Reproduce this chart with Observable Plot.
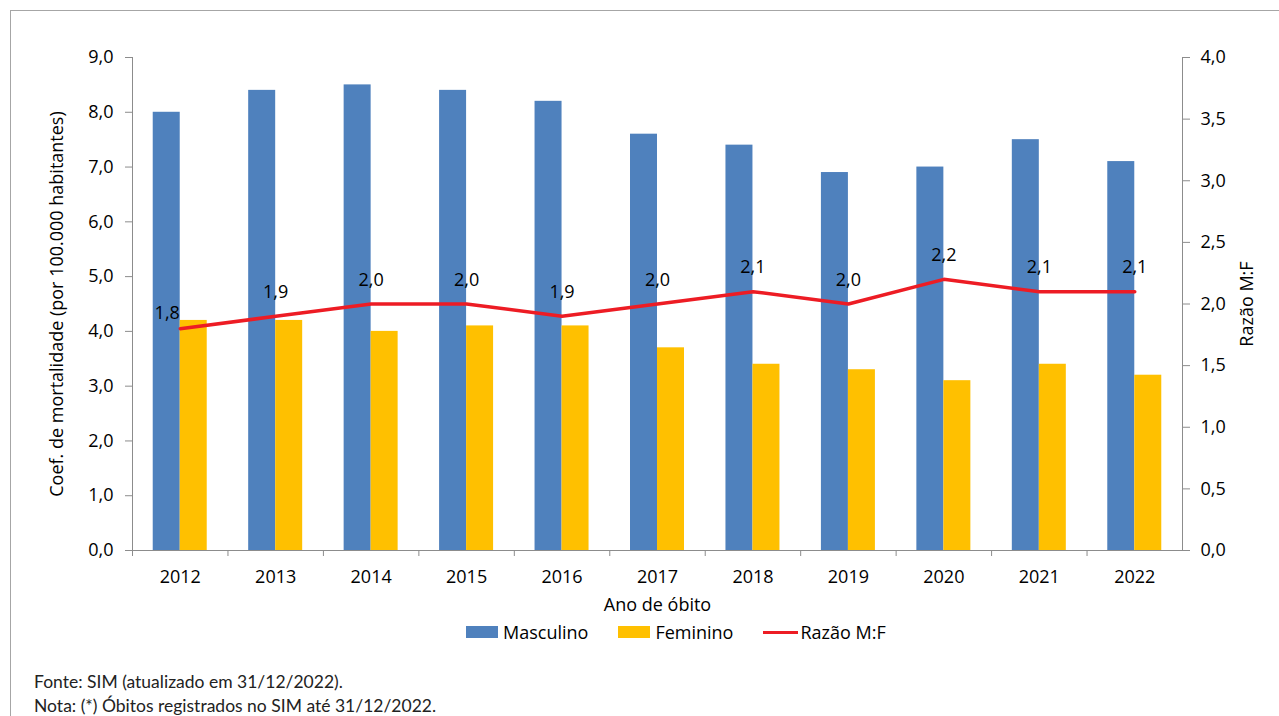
<!DOCTYPE html>
<html><head><meta charset="utf-8">
<script src="https://cdn.jsdelivr.net/npm/d3@7"></script>
<script src="https://cdn.jsdelivr.net/npm/@observablehq/plot@0.6"></script>
<style>
body{margin:0;background:#fff;width:1279px;height:716px;overflow:hidden;position:relative;font-family:"Open Sans",sans-serif;}
#border{position:absolute;left:10px;top:10px;width:1300px;height:720px;border-top:1px solid #a6a6a6;border-left:1px solid #a6a6a6;}
#chart{position:absolute;left:0;top:0;}
#legend{position:absolute;top:620px;left:466px;display:flex;font-size:18px;color:#000;}
#legend .it{display:flex;align-items:center;margin-right:30px;}
#legend .sw{width:32px;height:12px;margin-right:5px;}
#legend .ln{width:35px;height:3px;background:#ED1C24;margin-right:2px;}
#foot{position:absolute;left:34px;top:670px;font-family:Lato,sans-serif;font-weight:400;font-size:17.5px;line-height:24px;color:#222;}
</style></head>
<body>
<div id="border"></div>
<div id="chart"></div>
<div id="legend">
 <div class="it"><div class="sw" style="background:#4F81BD"></div>Masculino</div>
 <div class="it"><div class="sw" style="background:#FFC000"></div>Feminino</div>
 <div class="it"><div class="ln"></div>Razão M:F</div>
</div>
<div id="foot">Fonte: SIM (atualizado em 31/12/2022).<br>Nota: (*) Óbitos registrados no SIM até 31/12/2022.</div>
<script>
const years = ["2012","2013","2014","2015","2016","2017","2018","2019","2020","2021","2022"];
const masculino = [8.0, 8.4, 8.5, 8.4, 8.2, 7.6, 7.4, 6.9, 7.0, 7.5, 7.1];
const feminino = [4.2, 4.2, 4.0, 4.1, 4.1, 3.7, 3.4, 3.3, 3.1, 3.4, 3.2];
const razao = [1.8, 1.9, 2.0, 2.0, 1.9, 2.0, 2.1, 2.0, 2.2, 2.1, 2.1];
const leftTicks = [0,1,2,3,4,5,6,7,8,9];
const rightTicks = [0,0.5,1,1.5,2,2.5,3,3.5,4];

const data = years.map((y,i)=>({year:y, masc:masculino[i], fem:feminino[i], ratio:razao[i]}));
const k = 9/4; // right axis -> left axis
const fmt = v => v.toFixed(1).replace(".", ",");
const W = 1279, ML = 132, MR = 97;
const band = (W - ML - MR) / years.length;
const half = band/2, bw = 27;
const axisColor = "#8c8c8c";
const FS = 18;

const chart = Plot.plot({
  width: W, height: 620,
  marginLeft: ML, marginRight: MR, marginTop: 57, marginBottom: 70,
  style: {fontFamily: "Open Sans, sans-serif", fontSize: FS + "px", color: "#000", background: "transparent"},
  x: {domain: years, padding: 0, round: false, axis: null},
  y: {domain: [0, 9], axis: null},
  marks: [
    Plot.barY(data, {x: "year", y: "masc", fill: "#4F81BD", insetLeft: half - bw, insetRight: half}),
    Plot.barY(data, {x: "year", y: "fem", fill: "#FFC000", insetLeft: half, insetRight: half - bw}),
    Plot.frame({anchor: "left", stroke: axisColor}),
    Plot.frame({anchor: "right", stroke: axisColor}),
    Plot.frame({anchor: "bottom", stroke: axisColor}),
    Plot.axisY({anchor: "left", ticks: leftTicks, tickFormat: fmt, tickSize: 7, tickPadding: 12, stroke: axisColor, fill: "#000", label: null, fontSize: FS}),
    Plot.axisY({anchor: "right", ticks: rightTicks.map(v => v*k), tickFormat: d => fmt(d/k), tickSize: 7, tickPadding: 11, stroke: axisColor, fill: "#000", label: null, fontSize: FS}),
    Plot.axisX({anchor: "bottom", tickSize: 0, tickPadding: 20, label: null, fontSize: FS, fill: "#000"}),
    Plot.axisX({anchor: "bottom", tickSize: 6, tickFormat: () => "", dx: -half, stroke: axisColor, label: null}),
    Plot.line(data, {x: "year", y: d => d.ratio*k, stroke: "#ED1C24", strokeWidth: 3.5}),
    Plot.text(data.slice(1), {x: "year", y: d => d.ratio*k, text: d => fmt(d.ratio), dy: -24, fontSize: FS, fill: "#000"}),
    Plot.text(data.slice(0,1), {x: "year", y: d => d.ratio*k, text: d => fmt(d.ratio), dy: -15, dx: -13, fontSize: FS, fill: "#000"}),
    Plot.text(["Coef. de mortalidade (por 100.000 habitantes)"], {frameAnchor: "left", textAnchor: "middle", dx: -75, rotate: -90, fontSize: FS, fill: "#000"}),
    Plot.text(["Razão M:F"], {frameAnchor: "right", textAnchor: "middle", dx: 65, rotate: -90, fontSize: FS, fill: "#000"}),
    Plot.text(["Ano de óbito"], {frameAnchor: "bottom", dy: 60, fontSize: FS, fill: "#000"})
  ]
});
document.getElementById("chart").appendChild(chart);
</script>
</body></html>
